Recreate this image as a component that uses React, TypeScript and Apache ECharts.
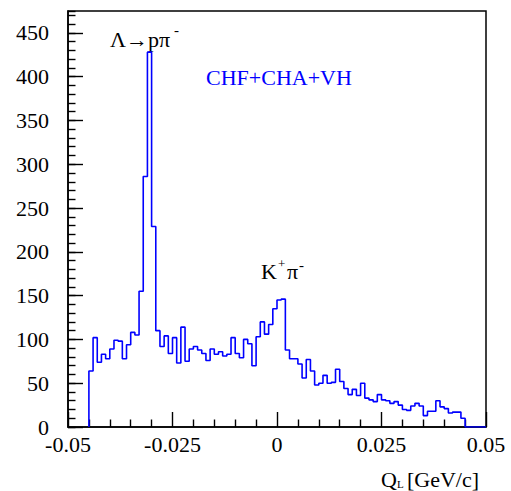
import React, { useEffect, useRef } from 'react';
import * as echarts from 'echarts';

// Histogram definition: 90 bins of width 0.001 GeV/c starting at -0.045
const binStart = -0.045;
const binWidth = 0.001;
const counts = [
  64, 102, 74, 83, 78, 89, 99, 98, 78, 94,
  108, 105, 155, 286, 428, 229, 110, 92, 104, 84,
  102, 73, 114, 75, 89, 92, 88, 84, 76, 89,
  83, 86, 81, 83, 102, 84, 79, 100, 95, 70,
  103, 120, 106, 117, 135, 145, 146, 88, 78, 78,
  72, 56, 77, 64, 48, 50, 59, 50, 51, 66,
  52, 44, 37, 43, 36, 50, 33, 31, 29, 37,
  31, 30, 27, 29, 25, 20, 19, 24, 27, 24,
  13, 18, 18, 30, 23, 21, 16, 17, 17, 10,
];
const xTickLabels = ['-0.05', '-0.025', '0', '0.025', '0.05'];
const yTickLabels = ['0', '50', '100', '150', '200', '250', '300', '350', '400', '450'];

const FONT = '"Liberation Serif", "DejaVu Serif", serif';

export default function App() {
  const ref = useRef<HTMLDivElement>(null);
  useEffect(() => {
    const chart = echarts.init(ref.current!, null, { renderer: 'svg' });
    const pts: [number, number][] = [[binStart, 0]];
    counts.forEach((c, i) => pts.push([+(binStart + i * binWidth).toFixed(4), c]));
    const end = +(binStart + counts.length * binWidth).toFixed(4);
    pts.push([end, 0]);
    pts.push([0.05, 0]);

    const txt = (x: number, y: number, text: string, size: number, fill = '#000') => ({
      type: 'text',
      x,
      y,
      silent: true,
      style: {
        text,
        fontSize: size,
        fontFamily: FONT,
        fill,
        align: 'left',
        textAlign: 'left',
        verticalAlign: 'middle',
        textVerticalAlign: 'middle',
      },
    });

    chart.setOption({
      animation: false,
      grid: {
        show: true,
        left: 68,
        right: 25,
        top: 11,
        bottom: 64,
        borderColor: '#000',
        borderWidth: 1.5,
        backgroundColor: 'transparent',
      },
      xAxis: {
        type: 'value',
        min: -0.05,
        max: 0.05,
        interval: 0.025,
        axisLine: { show: true, onZero: false, lineStyle: { color: '#000', width: 1.5 } },
        axisTick: { show: true, inside: true, length: 15, lineStyle: { color: '#000', width: 1.4 } },
        minorTick: { show: true, splitNumber: 5, length: 7.5, lineStyle: { color: '#000', width: 1.4 } },
        splitLine: { show: false },
        minorSplitLine: { show: false },
        axisLabel: {
          margin: 6,
          fontSize: 22,
          fontFamily: FONT,
          color: '#000',
          formatter: (v: number) => xTickLabels[Math.round((v + 0.05) / 0.025)] ?? '',
        },
      },
      yAxis: [
        {
          type: 'value',
          min: 0,
          max: 475,
          interval: 10,
          axisLine: { show: true, onZero: false, lineStyle: { color: '#000', width: 1.5 } },
          axisTick: { show: true, inside: true, length: 7.5, lineStyle: { color: '#000', width: 1.4 } },
          axisLabel: { show: false },
          splitLine: { show: false },
        },
        {
          type: 'value',
          min: 0,
          max: 475,
          interval: 50,
          position: 'left',
          offset: 0,
          axisLine: { show: false, onZero: false },
          axisTick: { show: true, inside: true, length: 15, lineStyle: { color: '#000', width: 1.4 } },
          splitLine: { show: false },
          axisLabel: {
            margin: 19,
            fontSize: 22,
            fontFamily: FONT,
            color: '#000',
            showMaxLabel: false,
            formatter: (v: number) => (v <= 450 ? yTickLabels[Math.round(v / 50)] : ''),
          },
        },
      ],
      series: [
        {
          type: 'line',
          data: pts,
          step: 'end',
          symbol: 'none',
          showSymbol: false,
          silent: true,
          clip: true,
          xAxisIndex: 0,
          yAxisIndex: 0,
          lineStyle: { color: '#0000ff', width: 1.6 },
        },
      ],
      graphic: [
        txt(110, 39, 'Λ→pπ', 22),
        txt(174, 30, '-', 15),
        txt(206, 77, 'CHF+CHA+VH', 22, '#0000ff'),
        txt(261, 271, 'K', 22),
        txt(278, 263, '+', 13),
        txt(287, 271, 'π', 22),
        txt(299, 265, '-', 15),
        txt(381, 479, 'Q', 22),
        txt(397, 484, 'L', 11),
        txt(407, 479, '[GeV/c]', 22),
      ],
    });
    return () => chart.dispose();
  }, []);
  return (
    <div
      ref={ref}
      style={{ position: 'fixed', left: 0, top: 0, width: 511, height: 491, background: '#fff' }}
    />
  );
}
